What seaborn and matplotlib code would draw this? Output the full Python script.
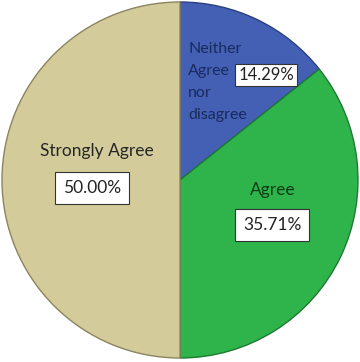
import matplotlib
matplotlib.use("Agg")
import matplotlib.pyplot as plt
import seaborn as sns

categories = ["Neither\nAgree\nnor\ndisagree", "Agree", "Strongly Agree"]
values = [14.29, 35.71, 50.00]
pct_labels = ["14.29%", "35.71%", "50.00%"]
colors = ["#4360B5", "#2EB44B", "#D3CC9A"]
edge_colors = ["#2B3F80", "#1D7A32", "#8A8460"]
text_colors = ["#1B2A5C", "#0B3D16", "#262626"]

sns.set_style("white")
plt.rcParams["font.family"] = ["Lato", "DejaVu Sans"]

fig = plt.figure(figsize=(3.6, 3.62), dpi=100)
ax = fig.add_axes([0, 0, 1, 1])
R = 178.0

wedges, _ = ax.pie(values, colors=colors, startangle=90, counterclock=False,
                   radius=1.0, wedgeprops=dict(linewidth=1.0))
for w, ec in zip(wedges, edge_colors):
    w.set_edgecolor(ec)

ax.set_aspect("equal")
ax.set_xlim(-180 / R, 180 / R)
ax.set_ylim(-182 / R, 180 / R)
ax.axis("off")


def px(x, y):
    return (x - 180) / R, (180 - y) / R


box = dict(boxstyle="square,pad=0.45", fc="white", ec="#333333", lw=0.8)
fs = 12.5

# Neither: one text per line so the box can sit beside the short words
for i, line in enumerate(categories[0].split("\n")):
    x, y = px(188, 49 + i * 22)
    ax.text(x, y, line, ha="left", va="center", fontsize=11.5, color=text_colors[0])
x, y = px(266, 75)
ax.text(x, y, pct_labels[0], ha="center", va="center", fontsize=12,
        color="#222222", bbox=dict(boxstyle="square,pad=0.2", fc="white", ec="#333333", lw=0.8))

# Agree
x, y = px(273, 190)
ax.text(x, y, categories[1], ha="center", va="center", fontsize=fs, color=text_colors[1])
x, y = px(272, 225)
ax.text(x, y, pct_labels[1], ha="center", va="center", fontsize=fs,
        color="#222222", bbox=box)

# Strongly Agree
x, y = px(97, 151)
ax.text(x, y, categories[2], ha="center", va="center", fontsize=fs, color=text_colors[2])
x, y = px(92, 188)
ax.text(x, y, pct_labels[2], ha="center", va="center", fontsize=fs,
        color="#222222", bbox=box)

fig.savefig("out.png", dpi=100, facecolor="white")
